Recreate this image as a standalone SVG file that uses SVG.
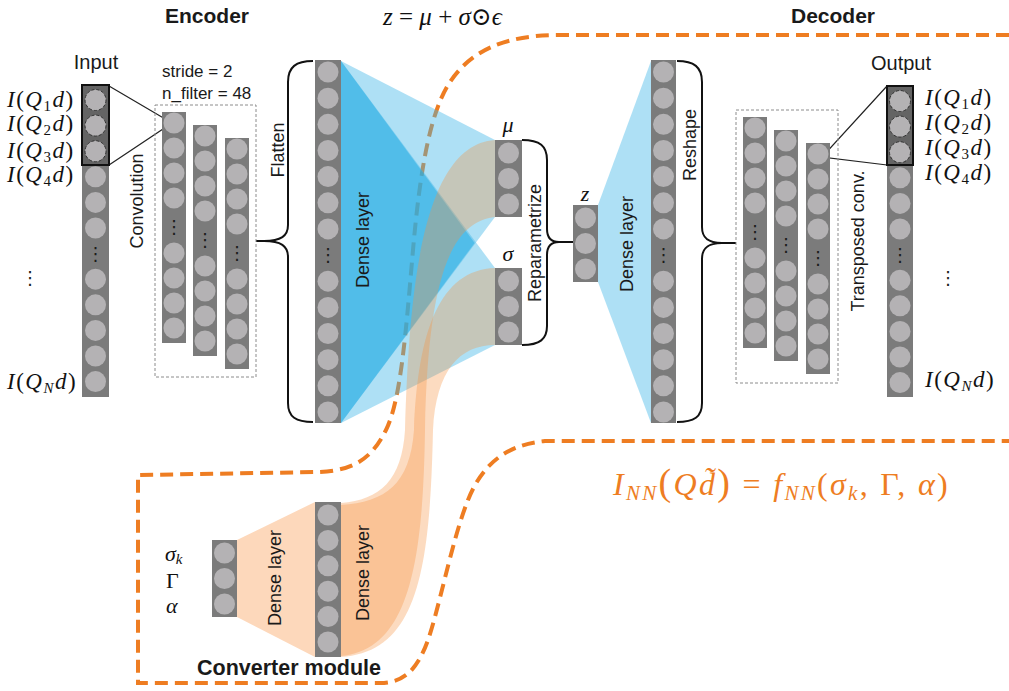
<svg xmlns="http://www.w3.org/2000/svg" width="1009" height="691" viewBox="0 0 1009 691">
<defs>
<style>
.col{fill:#7b7b7b}
.cell{fill:#b4b2b4}
.hl{fill:#646464;stroke:#111;stroke-width:2}
.hcell{fill:#b4b2b4;stroke:#333;stroke-width:1;stroke-dasharray:3 2}
.dots{font-family:"DejaVu Sans",sans-serif;font-size:18px;fill:#1a1a1a;text-anchor:middle}
.lbl{font-family:"Liberation Sans",Arial,sans-serif;fill:#1a1a1a}
.vl{font-family:"Liberation Sans",Arial,sans-serif;font-size:18px;fill:#1a1a1a;text-anchor:middle;dominant-baseline:central}
.bold{font-weight:bold}
.math{font-family:"Liberation Serif","DejaVu Serif",serif;fill:#111}
.it{font-style:italic}
.brace{fill:none;stroke:#111;stroke-width:2}
.thin{fill:none;stroke:#222;stroke-width:1.2}
.dbox{fill:none;stroke:#8c8c8c;stroke-width:1;stroke-dasharray:3 2}
.border{fill:none;stroke:#ee7d22;stroke-width:4;stroke-dasharray:13 7}
.fanB{fill:#3db5e6;opacity:.42}
.fanB2{fill:#1aa8e2;opacity:.45}
.fanO{fill:#f5913f;opacity:.33}
</style>
</defs>

<!-- module boundary of the converter network -->
<path class="border" d="M1009,35 L560,35 C505,35 470,50 448,85 C430,115 420,170 413,250 C406,330 401,400 386,430 C372,458 355,470 320,472 L138,475 L138,683 L380,683 C405,683 418,668 428,640 C440,605 452,540 468,500 C482,465 505,445 545,441 L1009,441"/>

<!-- layer fans -->
<g id="fans">
<polygon class="fanB" points="341,61 495,140 495,217 341,423"/>
<polygon class="fanB" points="341,61 495,268 495,345 341,423"/>
<polygon class="fanB2" points="341,61 474.6,242.9 341,423"/>
<polygon class="fanB" points="598,205 651,61 651,423 598,282"/>
<polygon fill="#fdd8bb" points="237,540 315,502 315,657 237,617"/>
<path class="fanO" d="M341,503 C380,500 402,480 405,430 C409,300 420,145 495,140 L495,217 C450,222 428,280 425,430 C423,560 410,650 341,656 Z"/>
<path class="fanO" d="M341,505 C385,502 410,485 414,430 C418,330 440,270 495,268 L495,345 C460,345 436,370 433,430 C430,570 418,652 341,657 Z"/>
</g>

<!-- connectors: braces and zoom lines -->
<g id="connectors">
<path class="brace" d="M313,61 C296,61 288,67 288,82 L288,225 C288,236 281,241 264,241 C281,241 288,246 288,257 L288,403 C288,417 296,422 313,422"/>
<line class="brace" x1="256" y1="241" x2="265" y2="241"/>
<path class="brace" d="M522,140 C540,140 547,146 547,160 L547,229 C547,238 551,242 559,242 C551,242 547,246 547,255 L547,326 C547,339 540,345 522,345"/>
<line class="brace" x1="558" y1="242" x2="573" y2="242"/>
<path class="brace" d="M677,61 C694,61 702,67 702,82 L702,227 C702,238 708,243 722,243 C708,243 702,248 702,259 L702,403 C702,417 694,422 677,422"/>
<line class="brace" x1="721" y1="243" x2="736" y2="243"/>
<polyline class="thin" points="109,86 172,123 109,165"/>
<polyline class="thin" points="887,86 822,157 887,165"/>
</g>

<!-- input -->
<g id="input">
<rect class="col" x="82" y="85" width="27" height="312"/>
<rect class="hl" x="82" y="85" width="27" height="80"/>
<circle class="hcell" cx="95.5" cy="100" r="10.5"/>
<circle class="hcell" cx="95.5" cy="125.6" r="10.5"/>
<circle class="hcell" cx="95.5" cy="151.2" r="10.5"/>
<circle class="cell" cx="95.5" cy="176.8" r="10.5"/>
<circle class="cell" cx="95.5" cy="202.4" r="10.5"/>
<circle class="cell" cx="95.5" cy="228" r="10.5"/>
<text class="dots" x="95.5" y="260">⋮</text>
<circle class="cell" cx="95.5" cy="279.2" r="10.5"/>
<circle class="cell" cx="95.5" cy="304.8" r="10.5"/>
<circle class="cell" cx="95.5" cy="330.4" r="10.5"/>
<circle class="cell" cx="95.5" cy="356" r="10.5"/>
<circle class="cell" cx="95.5" cy="381.6" r="10.5"/>
<text class="lbl" x="96" y="69" font-size="20" text-anchor="middle">Input</text>
<g class="math" font-size="23" letter-spacing="1.5">
<text x="7" y="107"><tspan class="it">I</tspan>(<tspan class="it">Q</tspan><tspan font-size="15" dy="4">1</tspan><tspan class="it" dy="-4">d</tspan>)</text>
<text x="7" y="131"><tspan class="it">I</tspan>(<tspan class="it">Q</tspan><tspan font-size="15" dy="4">2</tspan><tspan class="it" dy="-4">d</tspan>)</text>
<text x="7" y="158"><tspan class="it">I</tspan>(<tspan class="it">Q</tspan><tspan font-size="15" dy="4">3</tspan><tspan class="it" dy="-4">d</tspan>)</text>
<text x="7" y="182"><tspan class="it">I</tspan>(<tspan class="it">Q</tspan><tspan font-size="15" dy="4">4</tspan><tspan class="it" dy="-4">d</tspan>)</text>
<text x="7" y="389"><tspan class="it">I</tspan>(<tspan class="it">Q</tspan><tspan class="it" font-size="15" dy="4">N</tspan><tspan class="it" dy="-4">d</tspan>)</text>
</g>
<text class="dots" x="30" y="284">⋮</text>
</g>

<!-- encoder convolution stack -->
<g id="enc-conv">
<rect class="dbox" x="155" y="105" width="101" height="272"/>
<rect class="col" x="162" y="112" width="24" height="231"/>
<circle class="cell" cx="174" cy="123" r="10.5"/><circle class="cell" cx="174" cy="148" r="10.5"/><circle class="cell" cx="174" cy="173" r="10.5"/><circle class="cell" cx="174" cy="198" r="10.5"/>
<text class="dots" x="174" y="233">⋮</text>
<circle class="cell" cx="174" cy="253" r="10.5"/><circle class="cell" cx="174" cy="278" r="10.5"/><circle class="cell" cx="174" cy="303" r="10.5"/><circle class="cell" cx="174" cy="328" r="10.5"/>
<rect class="col" x="193" y="125" width="24" height="231"/>
<circle class="cell" cx="205" cy="136" r="10.5"/><circle class="cell" cx="205" cy="161" r="10.5"/><circle class="cell" cx="205" cy="186" r="10.5"/><circle class="cell" cx="205" cy="211" r="10.5"/>
<text class="dots" x="205" y="246">⋮</text>
<circle class="cell" cx="205" cy="266" r="10.5"/><circle class="cell" cx="205" cy="291" r="10.5"/><circle class="cell" cx="205" cy="316" r="10.5"/><circle class="cell" cx="205" cy="341" r="10.5"/>
<rect class="col" x="225" y="138" width="24" height="231"/>
<circle class="cell" cx="237" cy="149" r="10.5"/><circle class="cell" cx="237" cy="174" r="10.5"/><circle class="cell" cx="237" cy="199" r="10.5"/><circle class="cell" cx="237" cy="224" r="10.5"/>
<text class="dots" x="237" y="259">⋮</text>
<circle class="cell" cx="237" cy="279" r="10.5"/><circle class="cell" cx="237" cy="304" r="10.5"/><circle class="cell" cx="237" cy="329" r="10.5"/><circle class="cell" cx="237" cy="354" r="10.5"/>
<text class="lbl" x="162" y="77" font-size="17">stride = 2</text>
<text class="lbl" x="162" y="99" font-size="17">n_filter = 48</text>
<text class="vl" transform="translate(137,201) rotate(-90)">Convolution</text>
</g>

<!-- encoder dense layer -->
<g id="enc-dense">
<rect class="col" x="315" y="60" width="26" height="363"/>
<circle class="cell" cx="328" cy="72" r="10.5"/><circle class="cell" cx="328" cy="98.2" r="10.5"/><circle class="cell" cx="328" cy="124.3" r="10.5"/><circle class="cell" cx="328" cy="150.5" r="10.5"/><circle class="cell" cx="328" cy="176.6" r="10.5"/><circle class="cell" cx="328" cy="202.8" r="10.5"/><circle class="cell" cx="328" cy="228.9" r="10.5"/>
<text class="dots" x="328" y="261">⋮</text>
<circle class="cell" cx="328" cy="281.2" r="10.5"/><circle class="cell" cx="328" cy="307.4" r="10.5"/><circle class="cell" cx="328" cy="333.5" r="10.5"/><circle class="cell" cx="328" cy="359.7" r="10.5"/><circle class="cell" cx="328" cy="385.8" r="10.5"/><circle class="cell" cx="328" cy="412" r="10.5"/>
<text class="vl" font-size="19" transform="translate(278,150) rotate(-90)">Flatten</text>
<text class="vl" fill="#1c2a38" transform="translate(363,240) rotate(-90)">Dense layer</text>
</g>

<!-- latent mean -->
<g id="mu">
<rect class="col" x="495" y="140" width="27" height="77"/>
<circle class="cell" cx="508.5" cy="153" r="10.5"/><circle class="cell" cx="508.5" cy="178.5" r="10.5"/><circle class="cell" cx="508.5" cy="204" r="10.5"/>
<text class="math it" x="508" y="132" font-size="22" text-anchor="middle">μ</text>
</g>

<!-- latent spread -->
<g id="sigma">
<rect class="col" x="495" y="268" width="27" height="77"/>
<circle class="cell" cx="508.5" cy="281" r="10.5"/><circle class="cell" cx="508.5" cy="306.5" r="10.5"/><circle class="cell" cx="508.5" cy="332" r="10.5"/>
<text class="math it" x="508" y="261" font-size="22" text-anchor="middle">σ</text>
<text class="vl" transform="translate(535,243) rotate(-90)">Reparametrize</text>
</g>

<!-- latent sample -->
<g id="z">
<rect class="col" x="573" y="205" width="25" height="77"/>
<circle class="cell" cx="585.5" cy="218" r="10.5"/><circle class="cell" cx="585.5" cy="243.5" r="10.5"/><circle class="cell" cx="585.5" cy="269" r="10.5"/>
<text class="math it" x="585" y="201" font-size="22" text-anchor="middle">z</text>
</g>

<!-- decoder dense layer -->
<g id="dec-dense">
<rect class="col" x="651" y="60" width="25" height="363"/>
<circle class="cell" cx="663.5" cy="72" r="10.5"/><circle class="cell" cx="663.5" cy="98.2" r="10.5"/><circle class="cell" cx="663.5" cy="124.3" r="10.5"/><circle class="cell" cx="663.5" cy="150.5" r="10.5"/><circle class="cell" cx="663.5" cy="176.6" r="10.5"/><circle class="cell" cx="663.5" cy="202.8" r="10.5"/><circle class="cell" cx="663.5" cy="228.9" r="10.5"/>
<text class="dots" x="663.5" y="261">⋮</text>
<circle class="cell" cx="663.5" cy="281.2" r="10.5"/><circle class="cell" cx="663.5" cy="307.4" r="10.5"/><circle class="cell" cx="663.5" cy="333.5" r="10.5"/><circle class="cell" cx="663.5" cy="359.7" r="10.5"/><circle class="cell" cx="663.5" cy="385.8" r="10.5"/><circle class="cell" cx="663.5" cy="412" r="10.5"/>
<text class="vl" fill="#1c2a38" transform="translate(627,244) rotate(-90)">Dense layer</text>
<text class="vl" transform="translate(690,145) rotate(-90)">Reshape</text>
</g>

<!-- decoder transposed convolution stack -->
<g id="dec-conv">
<rect class="dbox" x="736" y="110" width="102" height="273"/>
<rect class="col" x="743" y="117" width="24" height="231"/>
<circle class="cell" cx="755" cy="128" r="10.5"/><circle class="cell" cx="755" cy="153" r="10.5"/><circle class="cell" cx="755" cy="178" r="10.5"/><circle class="cell" cx="755" cy="203" r="10.5"/>
<text class="dots" x="755" y="238">⋮</text>
<circle class="cell" cx="755" cy="258" r="10.5"/><circle class="cell" cx="755" cy="283" r="10.5"/><circle class="cell" cx="755" cy="308" r="10.5"/><circle class="cell" cx="755" cy="333" r="10.5"/>
<rect class="col" x="774" y="130" width="24" height="231"/>
<circle class="cell" cx="786" cy="141" r="10.5"/><circle class="cell" cx="786" cy="166" r="10.5"/><circle class="cell" cx="786" cy="191" r="10.5"/><circle class="cell" cx="786" cy="216" r="10.5"/>
<text class="dots" x="786" y="251">⋮</text>
<circle class="cell" cx="786" cy="271" r="10.5"/><circle class="cell" cx="786" cy="296" r="10.5"/><circle class="cell" cx="786" cy="321" r="10.5"/><circle class="cell" cx="786" cy="346" r="10.5"/>
<rect class="col" x="806" y="143" width="24" height="231"/>
<circle class="cell" cx="818" cy="154" r="10.5"/><circle class="cell" cx="818" cy="179" r="10.5"/><circle class="cell" cx="818" cy="204" r="10.5"/><circle class="cell" cx="818" cy="229" r="10.5"/>
<text class="dots" x="818" y="264">⋮</text>
<circle class="cell" cx="818" cy="284" r="10.5"/><circle class="cell" cx="818" cy="309" r="10.5"/><circle class="cell" cx="818" cy="334" r="10.5"/><circle class="cell" cx="818" cy="359" r="10.5"/>
<text class="vl" transform="translate(858,241) rotate(-90)">Transposed conv.</text>
</g>

<!-- output -->
<g id="output">
<rect class="col" x="887" y="86" width="26" height="311"/>
<rect class="hl" x="887" y="86" width="26" height="79"/>
<circle class="hcell" cx="900" cy="101" r="10.5"/>
<circle class="hcell" cx="900" cy="126.6" r="10.5"/>
<circle class="hcell" cx="900" cy="152.2" r="10.5"/>
<circle class="cell" cx="900" cy="177.8" r="10.5"/>
<circle class="cell" cx="900" cy="203.4" r="10.5"/>
<circle class="cell" cx="900" cy="229" r="10.5"/>
<text class="dots" x="900" y="261">⋮</text>
<circle class="cell" cx="900" cy="280.2" r="10.5"/>
<circle class="cell" cx="900" cy="305.8" r="10.5"/>
<circle class="cell" cx="900" cy="331.4" r="10.5"/>
<circle class="cell" cx="900" cy="357" r="10.5"/>
<circle class="cell" cx="900" cy="382.6" r="10.5"/>
<text class="lbl" x="901" y="70" font-size="20" text-anchor="middle">Output</text>
<g class="math" font-size="23" letter-spacing="1.5">
<text x="925" y="105"><tspan class="it">I</tspan>(<tspan class="it">Q</tspan><tspan font-size="15" dy="4">1</tspan><tspan class="it" dy="-4">d</tspan>)</text>
<text x="925" y="130"><tspan class="it">I</tspan>(<tspan class="it">Q</tspan><tspan font-size="15" dy="4">2</tspan><tspan class="it" dy="-4">d</tspan>)</text>
<text x="925" y="155"><tspan class="it">I</tspan>(<tspan class="it">Q</tspan><tspan font-size="15" dy="4">3</tspan><tspan class="it" dy="-4">d</tspan>)</text>
<text x="925" y="180"><tspan class="it">I</tspan>(<tspan class="it">Q</tspan><tspan font-size="15" dy="4">4</tspan><tspan class="it" dy="-4">d</tspan>)</text>
<text x="925" y="387"><tspan class="it">I</tspan>(<tspan class="it">Q</tspan><tspan class="it" font-size="15" dy="4">N</tspan><tspan class="it" dy="-4">d</tspan>)</text>
</g>
<text class="dots" x="948" y="284">⋮</text>
</g>

<!-- converter module -->
<g id="converter">
<rect class="col" x="212" y="540" width="25" height="77"/>
<circle class="cell" cx="224.5" cy="553" r="10.5"/><circle class="cell" cx="224.5" cy="578.5" r="10.5"/><circle class="cell" cx="224.5" cy="604" r="10.5"/>
<rect class="col" x="315" y="502" width="26" height="155"/>
<circle class="cell" cx="328" cy="515" r="10.5"/><circle class="cell" cx="328" cy="540.4" r="10.5"/><circle class="cell" cx="328" cy="565.8" r="10.5"/><circle class="cell" cx="328" cy="591.2" r="10.5"/><circle class="cell" cx="328" cy="616.6" r="10.5"/><circle class="cell" cx="328" cy="642" r="10.5"/>
<text class="vl" transform="translate(275,578) rotate(-90)">Dense layer</text>
<text class="vl" transform="translate(363,573) rotate(-90)">Dense layer</text>
<g class="math" font-size="22">
<text x="165" y="561"><tspan class="it">σ</tspan><tspan class="it" font-size="15" dy="3">k</tspan></text>
<text x="166" y="588">Γ</text>
<text x="166" y="613" class="it">α</text>
</g>
<text class="lbl bold" x="197" y="675" font-size="21.5">Converter module</text>
</g>

<!-- titles and equations -->
<g id="titles">
<text class="lbl bold" x="207" y="23" font-size="21" text-anchor="middle">Encoder</text>
<text class="lbl bold" x="833" y="23" font-size="21" text-anchor="middle">Decoder</text>
<text class="math" x="383" y="25" font-size="25"><tspan class="it">z</tspan> = <tspan class="it">μ</tspan> + <tspan class="it">σ</tspan>⊙<tspan class="it">ϵ</tspan></text>
<text class="math" x="613" y="495" font-size="32" style="fill:#ee7d22" letter-spacing="2.3"><tspan class="it">I</tspan><tspan class="it" font-size="21" dy="5">NN</tspan><tspan font-size="38" dy="-5">(</tspan><tspan class="it">Qd̃</tspan><tspan font-size="38">)</tspan><tspan> = </tspan><tspan class="it">f</tspan><tspan class="it" font-size="21" dy="5">NN</tspan><tspan dy="-5">(</tspan><tspan class="it">σ</tspan><tspan class="it" font-size="21" dy="5">k</tspan><tspan dy="-5">, Γ, </tspan><tspan class="it">α</tspan><tspan>)</tspan></text>
</g>
</svg>
